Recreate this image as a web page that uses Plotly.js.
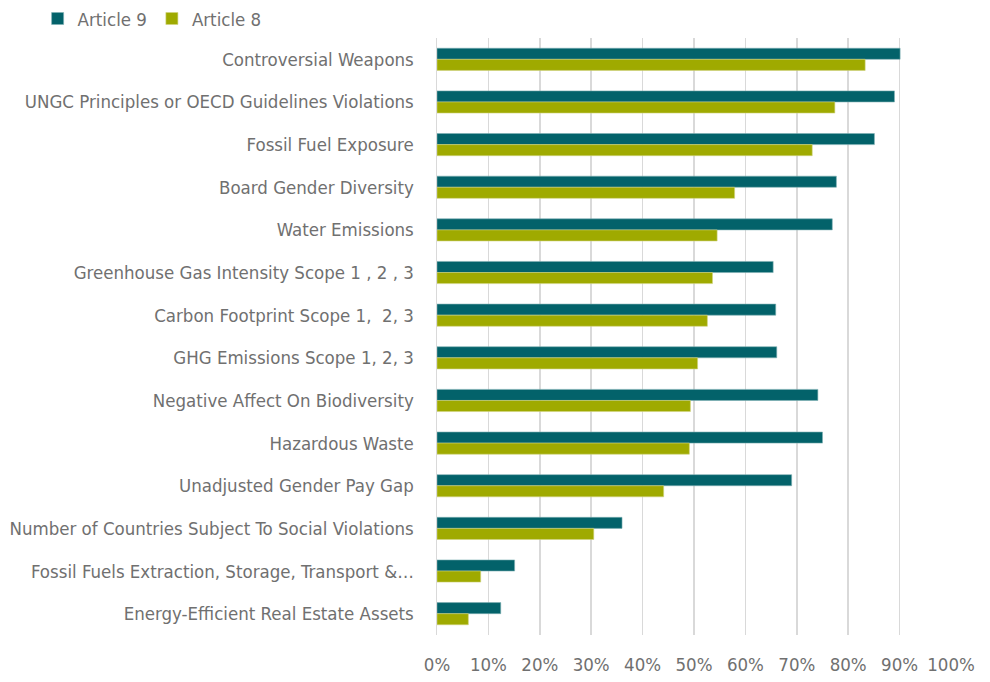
<!DOCTYPE html>
<html>
<head>
<meta charset="utf-8">
<script src="https://cdn.plot.ly/plotly-3.0.1.min.js"></script>
<style>html,body{margin:0;padding:0;background:#fff}#chart{width:990px;height:682px}</style>
</head>
<body>
<div id="chart"></div>
<script>
const categories = [
  "Controversial Weapons",
  "UNGC Principles or OECD Guidelines Violations",
  "Fossil Fuel Exposure",
  "Board Gender Diversity",
  "Water Emissions",
  "Greenhouse Gas Intensity Scope 1 , 2 , 3",
  "Carbon Footprint Scope 1,  2, 3",
  "GHG Emissions Scope 1, 2, 3",
  "Negative Affect On Biodiversity",
  "Hazardous Waste",
  "Unadjusted Gender Pay Gap",
  "Number of Countries Subject To Social Violations",
  "Fossil Fuels Extraction, Storage, Transport &\u2026",
  "Energy-Efficient Real Estate Assets"
];
const article9 = [0.901, 0.890, 0.851, 0.777, 0.769, 0.654, 0.659, 0.661, 0.741, 0.750, 0.690, 0.360, 0.151, 0.124];
const article8 = [0.833, 0.774, 0.730, 0.579, 0.545, 0.536, 0.526, 0.507, 0.493, 0.491, 0.441, 0.305, 0.085, 0.061];
const xTicks = [0, 0.1, 0.2, 0.3, 0.4, 0.5, 0.6, 0.7, 0.8, 0.9, 1.0];
const xTickLabels = ["0%", "10%", "20%", "30%", "40%", "50%", "60%", "70%", "80%", "90%", "100%"];

const FONT = "'DejaVu Sans Condensed', 'Liberation Sans Narrow', 'Roboto', sans-serif";
const GRAY = "#707070";

const traces = [
  {type: "bar", orientation: "h", name: "Article 9", y: categories, x: article9,
   marker: {color: "#03626a", line: {color: "#7fb0b3", width: 0.6}}, hoverinfo: "x+y"},
  {type: "bar", orientation: "h", name: "Article 8", y: categories, x: article8,
   marker: {color: "#9faa00", line: {color: "#d0d47f", width: 0.6}}, hoverinfo: "x+y"}
];

const layout = {
  width: 990, height: 682,
  margin: {l: 437, r: 39, t: 30, b: 47},
  paper_bgcolor: "#ffffff", plot_bgcolor: "#ffffff",
  font: {family: FONT, size: 18.5, color: GRAY},
  barmode: "group",
  bargap: 0.48,
  bargroupgap: 0,
  showlegend: true,
  legend: {orientation: "h", x: 0.038, y: 1.0, xref: "container", yref: "container",
           xanchor: "left", yanchor: "top", font: {family: FONT, size: 18.5, color: GRAY},
           itemwidth: 30, traceorder: "normal", tracegroupgap: 0},
  xaxis: {range: [0, 1.0], tickvals: xTicks, ticktext: xTickLabels,
          showgrid: true, gridcolor: "#d9d9d9", gridwidth: 1.5,
          zeroline: false, showline: false, ticks: "", ticklabelstandoff: 16,
          tickfont: {family: FONT, size: 18.5, color: GRAY}, fixedrange: true},
  yaxis: {type: "category", autorange: "reversed", showgrid: false, zeroline: false,
          showline: true, linecolor: "#d9d9d9", linewidth: 1.5,
          ticks: "", ticklabelstandoff: 18,
          tickfont: {family: FONT, size: 18.5, color: GRAY}, fixedrange: true}
};

Plotly.newPlot("chart", traces, layout, {displayModeBar: false, staticPlot: true});
</script>
</body>
</html>
